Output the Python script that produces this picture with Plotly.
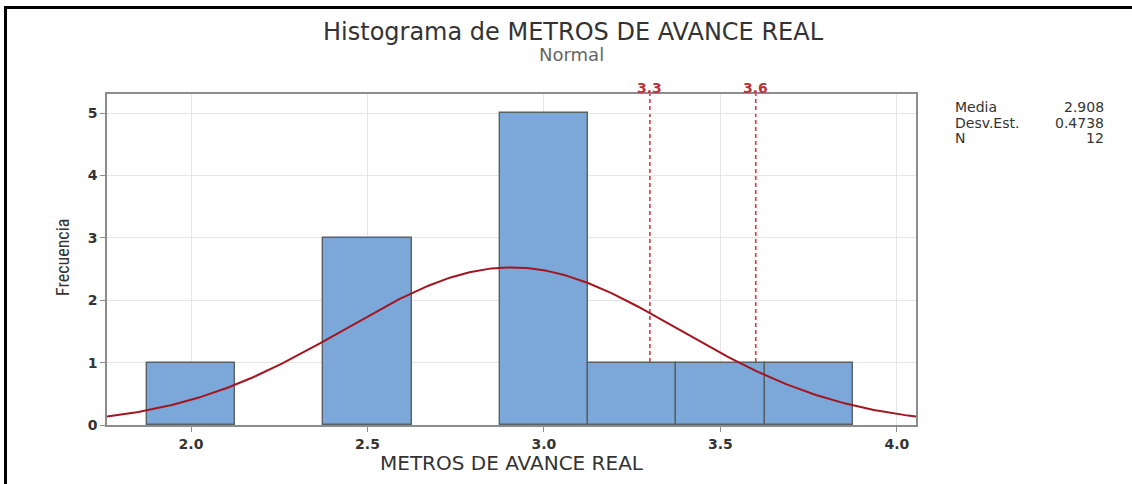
import numpy as np
import plotly.graph_objects as go

# Histogram bins (centres, width 0.25) and counts
bin_centers = [2.00, 2.25, 2.50, 2.75, 3.00, 3.25, 3.50, 3.75]
counts = [1, 0, 3, 0, 5, 1, 1, 1]
bin_width = 0.25

# Fitted normal parameters
media = 2.908
desv_est = 0.4738
n_obs = 12

# Reference lines
ref_lines = [3.3, 3.6]

x_ticks = [2.0, 2.5, 3.0, 3.5, 4.0]
y_ticks = [0, 1, 2, 3, 4, 5]

x_range = [1.762, 4.054]
y_range = [0, 5.305]

FONT = "DejaVu Sans"
TXT = "#333333"

fig = go.Figure()

fig.add_trace(go.Bar(
    x=bin_centers, y=counts, width=bin_width,
    marker=dict(color="#7ba7d9",
                line=dict(color="#5a6068", width=[1.4 if c > 0 else 0 for c in counts])),
    hoverinfo="x+y", showlegend=False,
))

# Normal density scaled to frequency (N * bin width)
xs = np.linspace(x_range[0], x_range[1], 300)
ys = n_obs * bin_width * np.exp(-0.5 * ((xs - media) / desv_est) ** 2) / (desv_est * np.sqrt(2 * np.pi))
fig.add_trace(go.Scatter(x=xs, y=ys, mode="lines",
                         line=dict(color="#a3161f", width=2), showlegend=False))

for v in ref_lines:
    fig.add_shape(type="line", xref="x", yref="y", x0=v, x1=v, y0=0, y1=y_range[1],
                  line=dict(color="#e0353b", width=1.6, dash="4px,3px"), layer="below")
    fig.add_annotation(x=v, y=1.0, xref="x", yref="paper", yanchor="bottom", yshift=-3,
                       text=str(v), showarrow=False, borderpad=0,
                       font=dict(family=FONT, size=14, color="#b8343a", weight="bold"))

# Outer frame (top and left edges)
px_l, px_r, px_t, px_b = 107, 916, 94, 425
def px_to_paper_x(p):
    return (p - px_l) / (px_r - px_l)
def px_to_paper_y(p):
    return (px_b - p) / (px_b - px_t)

fig.add_shape(type="line", xref="paper", yref="paper",
              x0=px_to_paper_x(5), x1=px_to_paper_x(1140),
              y0=px_to_paper_y(7.5), y1=px_to_paper_y(7.5),
              line=dict(color="#000000", width=3))
fig.add_shape(type="line", xref="paper", yref="paper",
              x0=px_to_paper_x(5.5), x1=px_to_paper_x(5.5),
              y0=px_to_paper_y(6), y1=px_to_paper_y(490),
              line=dict(color="#000000", width=3))

# Summary statistics box
stats = [("Media", f"{media:.3f}"), ("Desv.Est.", f"{desv_est:.4f}"), ("N", str(n_obs))]
for i, (lab, val) in enumerate(stats):
    y_p = px_to_paper_y(107 + i * 15.5)
    fig.add_annotation(x=px_to_paper_x(954), y=y_p, xref="paper", yref="paper",
                       xanchor="left", yanchor="middle", text=lab, showarrow=False,
                       borderpad=0, font=dict(family=FONT, size=14, color=TXT))
    fig.add_annotation(x=px_to_paper_x(1105), y=y_p, xref="paper", yref="paper",
                       xanchor="right", yanchor="middle", text=val, showarrow=False,
                       borderpad=0, font=dict(family=FONT, size=14, color=TXT))

# Title and subtitle
fig.add_annotation(x=px_to_paper_x(573), y=px_to_paper_y(32), xref="paper", yref="paper",
                   xanchor="center", yanchor="middle", showarrow=False, borderpad=0,
                   text="Histograma de METROS DE AVANCE REAL",
                   font=dict(family=FONT, size=24, color=TXT))
fig.add_annotation(x=px_to_paper_x(571), y=px_to_paper_y(55), xref="paper", yref="paper",
                   xanchor="center", yanchor="middle", showarrow=False, borderpad=0,
                   text="Normal", font=dict(family=FONT, size=18, color="#666666"))

# Axis titles
fig.add_annotation(x=px_to_paper_x(512), y=px_to_paper_y(463), xref="paper", yref="paper",
                   xanchor="center", yanchor="middle", showarrow=False,
                   text="METROS DE AVANCE REAL", font=dict(family=FONT, size=20, color=TXT))
fig.add_annotation(x=px_to_paper_x(62), y=px_to_paper_y(258), xref="paper", yref="paper",
                   xanchor="center", yanchor="middle", showarrow=False, textangle=-90,
                   text="Frecuencia",
                   font=dict(family="Liberation Sans Narrow, Roboto Condensed, Roboto", size=18, color=TXT))

axis_common = dict(showline=True, linecolor="#8c8c8c", linewidth=1.5, mirror=True,
                   showgrid=True, gridcolor="#e6e6e6", gridwidth=1.3,
                   ticks="outside", ticklen=5, tickcolor="#8c8c8c", zeroline=False,
                   tickfont=dict(family=FONT, size=14, color=TXT, weight="bold"))

fig.update_xaxes(range=x_range, tickvals=x_ticks, ticktext=[f"{t:.1f}" for t in x_ticks],
                 **axis_common)
fig.update_yaxes(range=y_range, tickvals=y_ticks, **axis_common)

fig.update_layout(
    width=1132, height=484,
    margin=dict(l=px_l, r=1132 - px_r, t=px_t, b=484 - px_b),
    paper_bgcolor="white", plot_bgcolor="white",
    bargap=0, font=dict(family=FONT, color=TXT),
)

fig.write_html("out.html")
